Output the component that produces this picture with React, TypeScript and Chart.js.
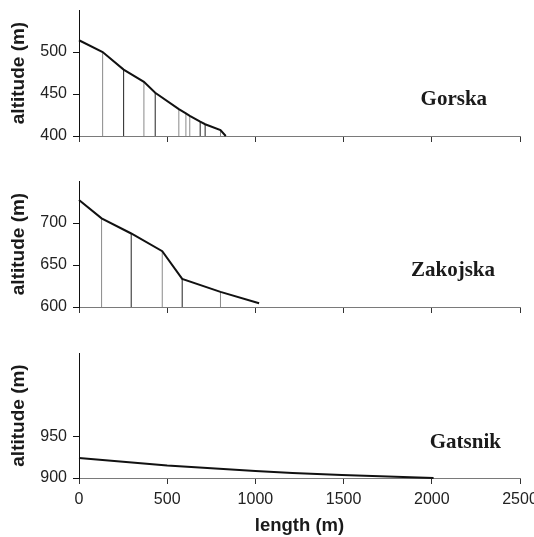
import React, { useEffect, useRef } from "react";
import { Chart, registerables } from "chart.js";

Chart.register(...registerables);

// ---------- data ----------
const lengthTicks = [0, 500, 1000, 1500, 2000, 2500];

const gorskaLength = [0, 134, 253, 368, 432, 566, 606, 628, 687, 715, 802, 832];
const gorskaAltitude = [514, 500, 479, 464.5, 451.5, 432, 427, 424, 417, 414, 407, 400];
const gorskaTicks = [400, 450, 500];
const gorskaDropShade = ["gray", "dark", "gray", "dark", "gray", "gray", "gray", "dark", "dark", "gray"];

const zakojskaLength = [0, 128, 296, 472, 585, 802, 1021];
const zakojskaAltitude = [727.5, 705.5, 687.5, 666.5, 633.5, 618, 604.5];
const zakojskaTicks = [600, 650, 700];
const zakojskaDropShade = ["gray", "dark", "gray", "dark", "gray"];

const gatsnikLength = [0, 500, 1000, 1210, 1490, 2010];
const gatsnikAltitude = [924, 915, 908.5, 906, 903.5, 900];
const gatsnikTicks = [900, 950];
const gatsnikDropShade: string[] = [];

type PanelCfg = {
  name: string;
  length: number[];
  altitude: number[];
  ticks: number[];
  yMin: number;
  yMax: number;
  shade: string[];
  top: number;
  height: number;
  padTop: number;
  axisHeight: number;
  showX: boolean;
  nameX: number;
  nameY: number;
};

const panels: PanelCfg[] = [
  {
    name: "Gorska", length: gorskaLength, altitude: gorskaAltitude, ticks: gorskaTicks,
    yMin: 400, yMax: 550, shade: gorskaDropShade,
    top: 0, height: 160, padTop: 10, axisHeight: 24, showX: false, nameX: 2125, nameY: 437,
  },
  {
    name: "Zakojska", length: zakojskaLength, altitude: zakojskaAltitude, ticks: zakojskaTicks,
    yMin: 600, yMax: 750, shade: zakojskaDropShade,
    top: 170, height: 160, padTop: 11, axisHeight: 23, showX: false, nameX: 2120, nameY: 637,
  },
  {
    name: "Gatsnik", length: gatsnikLength, altitude: gatsnikAltitude, ticks: gatsnikTicks,
    yMin: 900, yMax: 1050, shade: gatsnikDropShade,
    top: 340, height: 197, padTop: 13, axisHeight: 59, showX: true, nameX: 2190, nameY: 936,
  },
];

const nameLabel = {
  id: "nameLabel",
  afterDatasetsDraw(chart: any, _args: any, opts: any) {
    const { ctx } = chart;
    const x = chart.scales.x.getPixelForValue(opts.x);
    const y = chart.scales.y.getPixelForValue(opts.y);
    ctx.save();
    ctx.font = 'bold 21px "Liberation Serif"';
    ctx.fillStyle = "#1a1a1a";
    ctx.textAlign = "center";
    ctx.textBaseline = "alphabetic";
    ctx.fillText(opts.text, x, y);
    ctx.restore();
  },
};

function dropData(p: PanelCfg, shade: string) {
  const out: { x: number; y: number | null }[] = [];
  for (let i = 1; i < p.length.length - 1; i++) {
    if (p.shade[i - 1] !== shade) continue;
    out.push({ x: p.length[i], y: p.yMin });
    out.push({ x: p.length[i], y: p.altitude[i] });
    out.push({ x: p.length[i], y: null });
  }
  return out;
}

function Panel({ p }: { p: PanelCfg }) {
  const ref = useRef<HTMLCanvasElement | null>(null);
  useEffect(() => {
    if (!ref.current) return;
    const profile = p.length.map((x, i) => ({ x, y: p.altitude[i] }));
    const chart = new Chart(ref.current, {
      type: "scatter",
      data: {
        datasets: [
          {
            data: profile,
            showLine: true,
            borderColor: "#111",
            borderWidth: 2,
            pointRadius: 0,
            clip: false,
          } as any,
          {
            data: dropData(p, "dark"),
            showLine: true,
            spanGaps: false,
            borderColor: "#222",
            borderWidth: 1,
            pointRadius: 0,
            clip: false,
          } as any,
          {
            data: dropData(p, "gray"),
            showLine: true,
            spanGaps: false,
            borderColor: "#8a8a8a",
            borderWidth: 1,
            pointRadius: 0,
            clip: false,
          } as any,
        ],
      },
      options: {
        animation: false,
        responsive: true,
        maintainAspectRatio: false,
        events: [],
        layout: { padding: { top: p.padTop, right: 14, left: 0, bottom: 0 } },
        plugins: {
          legend: { display: false },
          tooltip: { enabled: false },
          nameLabel: { text: p.name, x: p.nameX, y: p.nameY },
        } as any,
        scales: {
          x: {
            type: "linear",
            min: 0,
            max: 2500,
            afterBuildTicks: (s: any) => {
              s.ticks = lengthTicks.map((v) => ({ value: v }));
            },
            afterFit: (s: any) => {
              s.height = p.axisHeight;
              s.paddingLeft = 0;
              s.paddingRight = 0;
            },
            grid: {
              display: true,
              drawOnChartArea: false,
              drawTicks: true,
              tickLength: 6,
              color: "#333",
            },
            border: { display: true, color: "#7a7a7a", width: 1 },
            ticks: {
              display: p.showX,
              padding: 6,
              color: "#222",
              maxRotation: 0,
              autoSkip: false,
              callback: (v: any) => String(v),
              font: { family: '"Liberation Sans", Arial, sans-serif', size: 16 },
            },
            title: {
              display: p.showX,
              text: "length (m)",
              color: "#1a1a1a",
              padding: { top: 0, bottom: 0 },
              font: { family: '"Liberation Sans", Arial, sans-serif', size: 18.5, weight: "bold" },
            },
          },
          y: {
            type: "linear",
            min: p.yMin,
            max: p.yMax,
            afterBuildTicks: (s: any) => {
              s.ticks = p.ticks.map((v) => ({ value: v }));
            },
            afterFit: (s: any) => {
              s.width = 79;
              s.paddingTop = 0;
              s.paddingBottom = 0;
            },
            grid: {
              display: true,
              drawOnChartArea: false,
              drawTicks: true,
              tickLength: 6,
              color: "#111",
            },
            border: { display: true, color: "#111", width: 1 },
            ticks: {
              padding: 6,
              color: "#222",
              autoSkip: false,
              callback: (v: any) => String(v),
              font: { family: '"Liberation Sans", Arial, sans-serif', size: 16 },
            },
            title: {
              display: true,
              text: "altitude (m)",
              color: "#1a1a1a",
              padding: { top: 7, bottom: 0 },
              font: { family: '"Liberation Sans", Arial, sans-serif', size: 19, weight: "bold" },
            },
          },
        },
      },
      plugins: [nameLabel as any],
    });
    return () => chart.destroy();
  }, [p]);

  return (
    <div style={{ position: "absolute", left: 0, top: p.top, width: 534, height: p.height }}>
      <canvas ref={ref} />
    </div>
  );
}

export default function App() {
  return (
    <div style={{ position: "absolute", left: 0, top: 0, width: 534, height: 537, background: "#fff" }}>
      {panels.map((p) => (
        <Panel key={p.name} p={p} />
      ))}
    </div>
  );
}
